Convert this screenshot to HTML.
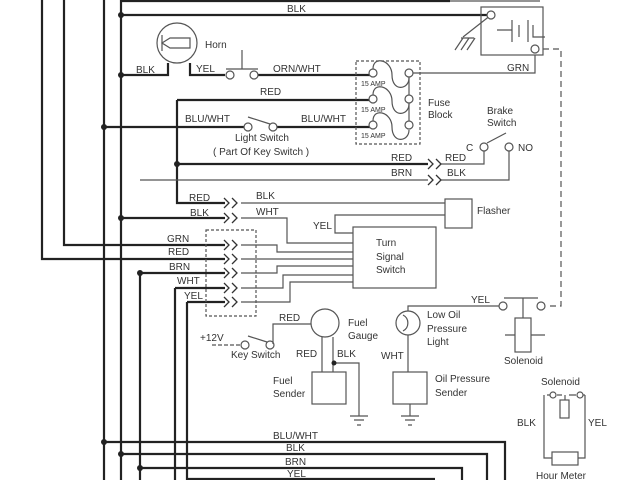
<!DOCTYPE html>
<html><head><meta charset="utf-8"><style>
html,body{margin:0;padding:0;background:#fff;width:640px;height:480px;overflow:hidden}
svg{display:block}
text{font-family:"Liberation Sans",sans-serif;font-size:10px;fill:#333}
</style></head><body>
<svg width="640" height="480" viewBox="0 0 640 480" xmlns="http://www.w3.org/2000/svg">
<defs>
<g id="chev"><path d="M0,-5 L5,0 L0,5 M8,-5 L13,0 L8,5" fill="none" stroke="#333" stroke-width="1.3"/></g>
<g id="gnd"><path d="M-9,0 H9 M-5,4 H5 M-2,9 H2" stroke="#555" stroke-width="1.2" fill="none"/></g>
</defs>
<g fill="none" stroke="#222" stroke-width="2.2">
<path d="M121,1 H450" />
<path d="M42,0 V259 H225"/>
<path d="M64,0 V245 H225"/>
<path d="M104,0 V480"/>
<path d="M121,0 V480"/>
<path d="M140,273 V480"/>
<path d="M175,288 V480"/>
<path d="M187,302 V480"/>
<path d="M121,15 H491"/>
<path d="M121,75 H168 V63"/>
<path d="M190,63 V75 H225"/>
<path d="M258,75 H370"/>
<path d="M177,100 H370"/>
<path d="M104,127 H245"/>
<path d="M276,127 H370"/>
<path d="M177,100 V203 H225"/>
<path d="M121,218 H225"/>
<path d="M177,164 H428"/>
<path d="M140,273 H225"/>
<path d="M175,288 H225"/>
<path d="M187,302 H225"/>
<path d="M104,442 H505 V480"/>
<path d="M121,454 H487 V480"/>
<path d="M140,468 H462 V480"/>
<path d="M187,479 H435"/>
</g>
<g fill="none" stroke="#555" stroke-width="1.2">
<path d="M450,1 H540"/>
<path d="M140,180 H428"/>
<path d="M412,73 H535 V55"/>
<path d="M409,73 V125"/>
<path d="M441,164 H484 V151"/>
<path d="M441,180 H509 V151"/>
<path d="M241,203 H445"/>
<path d="M241,218 H287 V243 H353"/>
<path d="M445,215 H335 V233 H353"/>
<path d="M241,245 H277 V252 H353"/>
<path d="M241,259 H353"/>
<path d="M241,273 H277 V266 H353"/>
<path d="M241,288 H283 V275 H353"/>
<path d="M241,302 H290 V282 H353"/>
<rect x="481" y="7" width="62" height="48"/>
<path d="M491,15 L463,37"/>
<path d="M461,38 H474 M463,38 L455,50 M469,38 L461,50 M475,38 L467,50"/>
<path d="M497,30 H512 M512,20 V42 M519,25 V37 M528,20 V42 M533,25 V37 H537 H545" />
<path d="M543,49 H561 V306 H546" stroke-dasharray="6,4"/>
<circle cx="177" cy="43" r="20"/>
<path d="M162,35 V51 M162,43 L170,38 H190 V48 H170 Z"/>
<path d="M226,69 H258 M242,69 V50"/>
<circle cx="230" cy="75" r="4" fill="#fff"/><circle cx="254" cy="75" r="4" fill="#fff"/>
<circle cx="248" cy="127" r="4" fill="#fff"/><circle cx="273" cy="127" r="4" fill="#fff"/>
<path d="M248,117 L270,124"/>
<rect x="356" y="61" width="64" height="83" stroke-dasharray="3,2"/>
<path d="M373,69 C373,55 392,60 392,75 C392,92 409,90 409,78"/>
<path d="M373,95 C373,81 392,86 392,101 C392,118 409,116 409,104"/>
<path d="M373,121 C373,107 392,112 392,127 C392,144 409,142 409,130"/>
<circle cx="373" cy="73" r="4" fill="#fff"/><circle cx="373" cy="99" r="4" fill="#fff"/><circle cx="373" cy="125" r="4" fill="#fff"/>
<circle cx="409" cy="73" r="4" fill="#fff"/><circle cx="409" cy="99" r="4" fill="#fff"/><circle cx="409" cy="125" r="4" fill="#fff"/>
<circle cx="491" cy="15" r="4" fill="#fff"/><circle cx="535" cy="49" r="4" fill="#fff"/>
<circle cx="484" cy="147" r="4" fill="#fff"/><circle cx="509" cy="147" r="4" fill="#fff"/>
<path d="M487,143 L506,133"/>
<rect x="445" y="199" width="27" height="29"/>
<rect x="353" y="227" width="83" height="61"/>
<rect x="206" y="230" width="50" height="86" stroke-dasharray="3,2"/>
<path d="M212,345 H240" stroke-dasharray="4,2"/>
<circle cx="245" cy="345" r="4" fill="#fff"/><circle cx="270" cy="345" r="4" fill="#fff"/>
<path d="M248,336 L267,342"/>
<path d="M273,344 V324 H311"/>
<circle cx="325" cy="323" r="14"/>
<path d="M322,337 V372 M333,337 V372 M334,363 H359 V416"/>
<rect x="312" y="372" width="34" height="32"/>
<circle cx="408" cy="323" r="12"/>
<path d="M403,315 A9,9 0 0 1 403,331"/>
<path d="M408,311 V306 H499 M408,335 V372"/>
<rect x="393" y="372" width="34" height="32"/>
<path d="M410,404 V416"/>
<path d="M504,298 H538 M523,298 V318"/>
<circle cx="503" cy="306" r="4" fill="#fff"/><circle cx="541" cy="306" r="4" fill="#fff"/>
<rect x="515" y="318" width="16" height="34"/>
<path d="M505,335 H515 M531,335 H545"/>
<path d="M547,395 H550 M557,395 H562 M569,395 H576 M583,395 H585"/>
<circle cx="553" cy="395" r="3" fill="#fff"/><circle cx="580" cy="395" r="3" fill="#fff"/>
<path d="M544,395 V458 H552 M585,395 V458 H578 M565,395 V400"/>
<rect x="560" y="400" width="9" height="18"/>
<rect x="552" y="452" width="26" height="13"/>
</g>
<g fill="#222">
<circle cx="121" cy="15" r="3"/><circle cx="121" cy="75" r="3"/><circle cx="104" cy="127" r="3"/>
<circle cx="177" cy="164" r="3"/><circle cx="121" cy="218" r="3"/><circle cx="140" cy="273" r="3"/>
<circle cx="104" cy="442" r="3"/><circle cx="121" cy="454" r="3"/><circle cx="140" cy="468" r="3"/>
<circle cx="334" cy="363" r="2.5"/>
</g>
<use href="#chev" x="224" y="203"/><use href="#chev" x="224" y="218"/>
<use href="#chev" x="224" y="245"/><use href="#chev" x="224" y="259"/><use href="#chev" x="224" y="273"/>
<use href="#chev" x="224" y="288"/><use href="#chev" x="224" y="302"/>
<use href="#chev" x="428" y="164"/><use href="#chev" x="428" y="180"/>
<use href="#gnd" x="359" y="416"/><use href="#gnd" x="410" y="416"/>
<text x="287" y="12">BLK</text>
<text x="205" y="48">Horn</text>
<text x="136" y="73">BLK</text>
<text x="196" y="72">YEL</text>
<text x="273" y="72">ORN/WHT</text>
<text x="260" y="95">RED</text>
<text x="185" y="122">BLU/WHT</text>
<text x="301" y="122">BLU/WHT</text>
<text x="235" y="141">Light Switch</text>
<text x="213" y="155">( Part Of Key Switch )</text>
<text x="361" y="86" style="font-size:7px">15 AMP</text>
<text x="361" y="112" style="font-size:7px">15 AMP</text>
<text x="361" y="138" style="font-size:7px">15 AMP</text>
<text x="428" y="106">Fuse</text>
<text x="428" y="118">Block</text>
<text x="507" y="71">GRN</text>
<text x="487" y="114">Brake</text>
<text x="487" y="126">Switch</text>
<text x="466" y="151">C</text>
<text x="518" y="151">NO</text>
<text x="391" y="161">RED</text>
<text x="391" y="176">BRN</text>
<text x="445" y="161">RED</text>
<text x="447" y="176">BLK</text>
<text x="189" y="201">RED</text>
<text x="190" y="216">BLK</text>
<text x="256" y="199">BLK</text>
<text x="256" y="215">WHT</text>
<text x="313" y="229">YEL</text>
<text x="477" y="214">Flasher</text>
<text x="376" y="246">Turn</text>
<text x="376" y="260">Signal</text>
<text x="376" y="273">Switch</text>
<text x="167" y="242">GRN</text>
<text x="168" y="255">RED</text>
<text x="169" y="270">BRN</text>
<text x="177" y="284">WHT</text>
<text x="184" y="299">YEL</text>
<text x="279" y="321">RED</text>
<text x="200" y="341">+12V</text>
<text x="231" y="358">Key Switch</text>
<text x="348" y="326">Fuel</text>
<text x="348" y="339">Gauge</text>
<text x="296" y="357">RED</text>
<text x="337" y="357">BLK</text>
<text x="273" y="384">Fuel</text>
<text x="273" y="397">Sender</text>
<text x="427" y="318">Low Oil</text>
<text x="427" y="332">Pressure</text>
<text x="427" y="345">Light</text>
<text x="471" y="303">YEL</text>
<text x="381" y="359">WHT</text>
<text x="435" y="382">Oil Pressure</text>
<text x="435" y="396">Sender</text>
<text x="504" y="364">Solenoid</text>
<text x="541" y="385">Solenoid</text>
<text x="517" y="426">BLK</text>
<text x="588" y="426">YEL</text>
<text x="536" y="479">Hour Meter</text>
<text x="273" y="439">BLU/WHT</text>
<text x="286" y="451">BLK</text>
<text x="285" y="465">BRN</text>
<text x="287" y="477">YEL</text>
</svg>
</body></html>
